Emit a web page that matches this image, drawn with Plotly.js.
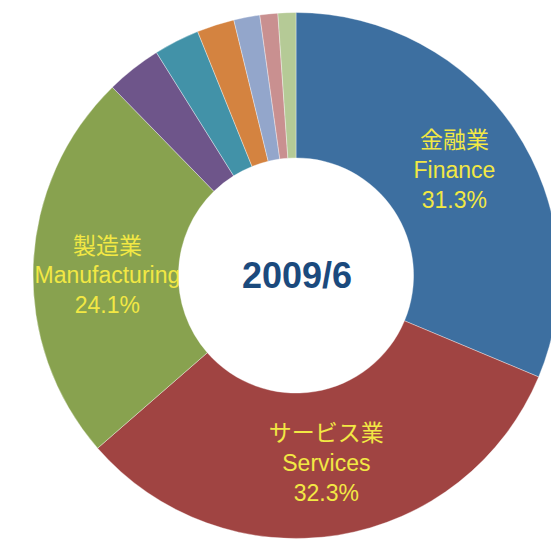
<!DOCTYPE html>
<html>
<head>
<meta charset="utf-8">
<script src="https://cdn.plot.ly/plotly-3.0.1.min.js"></script>
<style>
html, body { margin: 0; padding: 0; overflow: hidden; background: #fff; }
#chart { width: 600px; height: 560px; }
</style>
</head>
<body>
<div id="chart"></div>
<script>
const categoriesJa = ["金融業", "サービス業", "製造業", "その他1", "その他2", "その他3", "その他4", "その他5", "その他6"];
const categoriesEn = ["Finance", "Services", "Manufacturing", "", "", "", "", "", ""];
const shares = [31.3, 32.3, 24.1, 3.4, 2.8, 2.3, 1.6, 1.1, 1.1];
const sliceColors = ["#3D6FA0", "#A04442", "#88A24F", "#6E558A", "#4292A8", "#D48340", "#93A6CB", "#C99090", "#B5CA96"];
const labelShown = [true, true, true, false, false, false, false, false, false];
const centerLabel = "2009/6";

const texts = categoriesJa.map((c, i) => labelShown[i] ? (c + "<br>" + categoriesEn[i] + "<br>" + shares[i].toFixed(1) + "%") : "");

const trace = {
  type: "pie",
  labels: categoriesJa,
  values: shares,
  text: texts,
  textinfo: "text",
  textposition: labelShown.map(s => s ? "inside" : "none"),
  insidetextorientation: "horizontal",
  sort: false,
  direction: "clockwise",
  rotation: 0,
  hole: 0.447,
  marker: { colors: sliceColors, line: { color: "rgba(255,255,255,0.6)", width: 0.6 } },
  insidetextfont: { family: "Liberation Sans, Arial, 'Noto Sans CJK JP', sans-serif", size: 23, color: "#F2E844" },
  domain: { x: [0.055, 0.93167], y: [0.03839, 0.97768] },
  hoverinfo: "none"
};

const layout = {
  width: 600,
  height: 560,
  margin: { l: 0, r: 0, t: 0, b: 0 },
  showlegend: false,
  paper_bgcolor: "#ffffff",
  uniformtext: { minsize: 23, mode: "show" },
  annotations: [{
    text: "<b>" + centerLabel + "</b>",
    x: 0.4942, y: 0.508, xref: "paper", yref: "paper",
    xanchor: "center", yanchor: "middle", showarrow: false,
    font: { family: "Liberation Sans, Arial, sans-serif", size: 36, color: "#1B4A7D" }
  }]
};

Plotly.newPlot("chart", [trace], layout, { staticPlot: true, displayModeBar: false });
</script>
</body>
</html>
